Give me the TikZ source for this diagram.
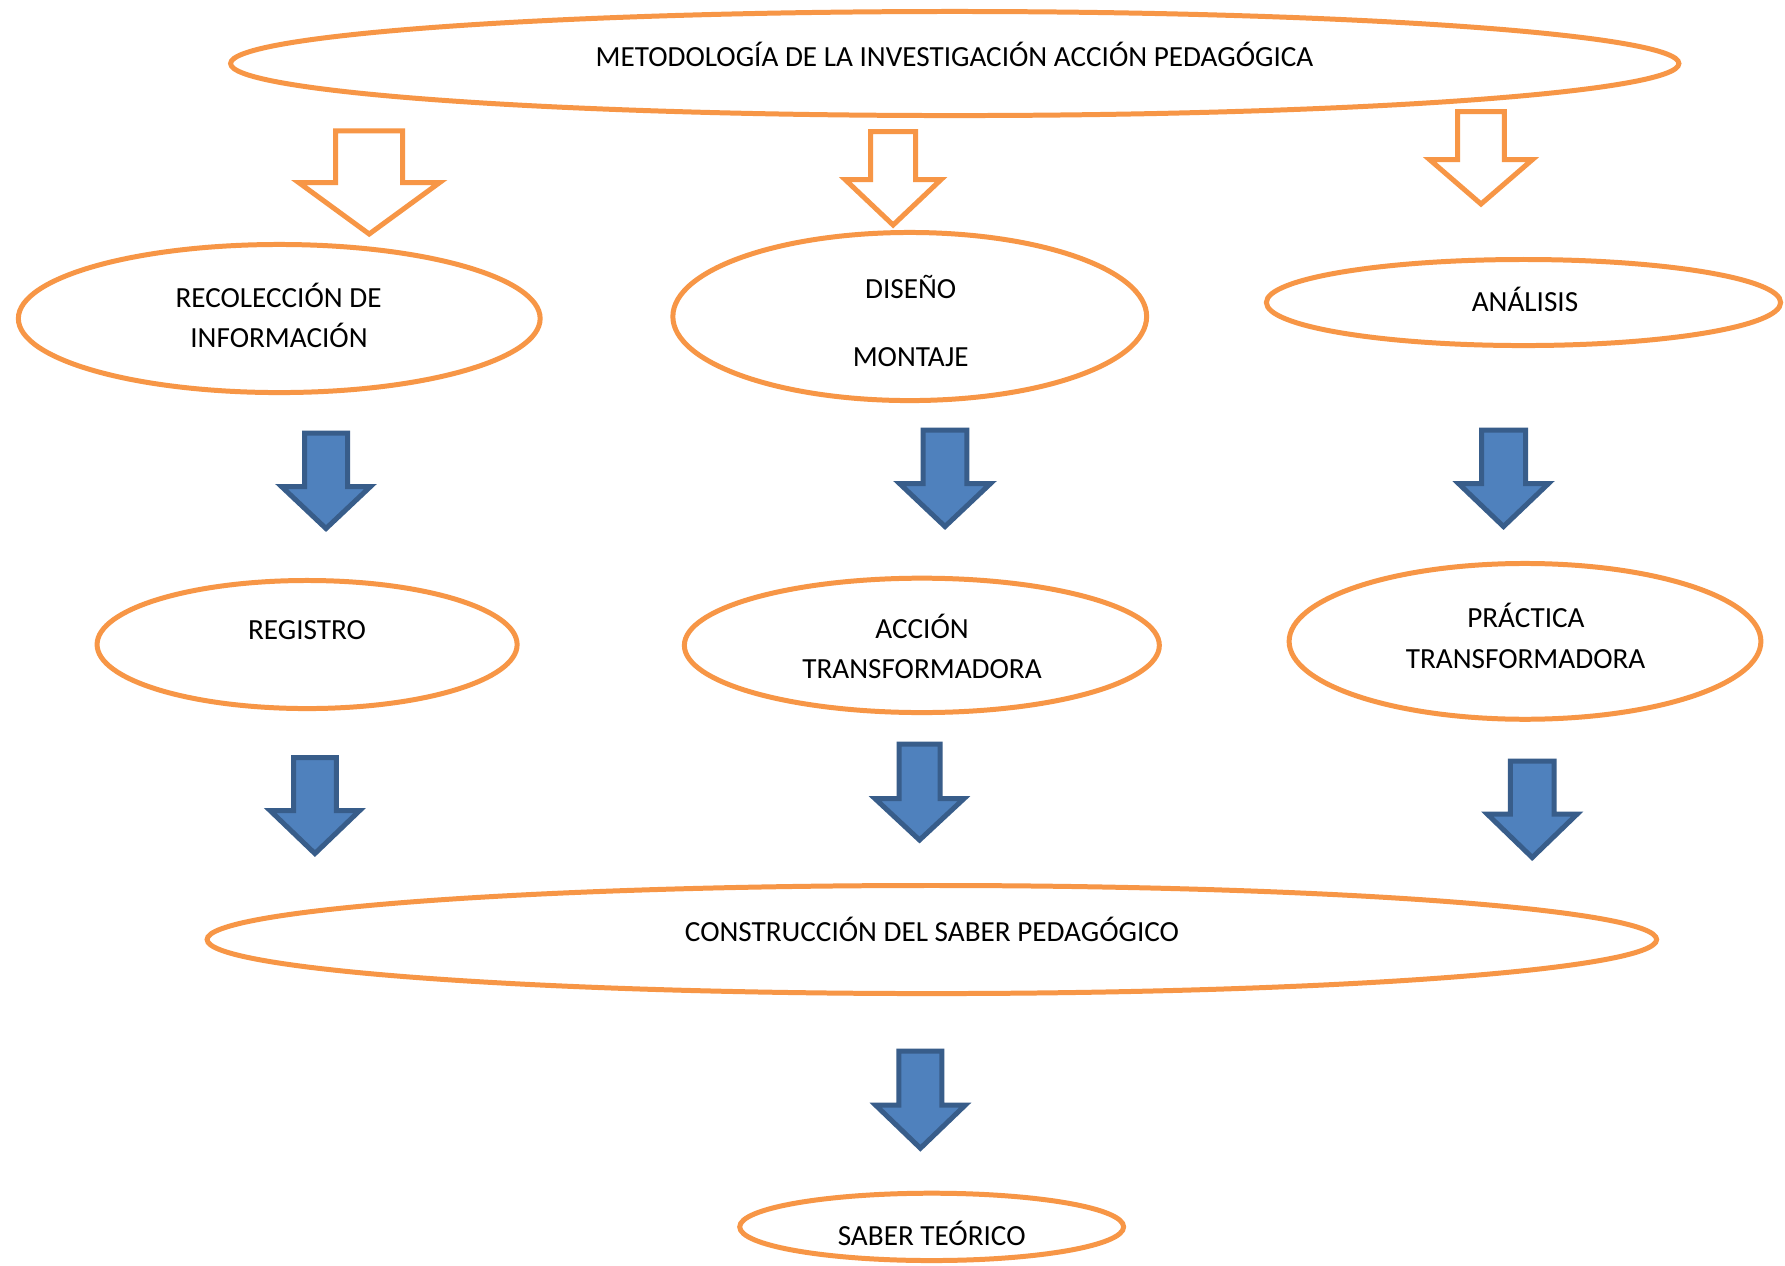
\documentclass[tikz,border=0pt]{standalone}
\usepackage{fontspec}
\setmainfont{Carlito}
\usetikzlibrary{shapes.geometric}
\definecolor{orangeC}{HTML}{F79646}
\definecolor{blueF}{HTML}{4F81BD}
\definecolor{blueD}{HTML}{385D8A}
\tikzset{
  oval/.style={ellipse, draw=orangeC, line width=1.42pt, fill=white, inner sep=0pt},
  lbl/.style={font=\fontsize{8.3}{10}\selectfont, anchor=base, inner sep=0pt, text=black},
  outarrow/.style={draw=orangeC, fill=white, line width=1.42pt, miter limit=10},
  bluearrow/.style={draw=blueD, fill=blueF, line width=1.42pt, miter limit=10},
}
% style, cx, top, headY, tipY, shaft half width, head half width
\newcommand{\blkarrow}[7]{%
  \draw[#1] ({#2-#6},#3) -- ({#2+#6},#3) -- ({#2+#6},#4) -- ({#2+#7},#4) -- (#2,#5)
    -- ({#2-#7},#4) -- ({#2-#6},#4) -- cycle;}
\begin{document}
\begin{tikzpicture}[x=0.01cm, y=-0.01cm]
\fill[white] (0,0) rectangle (1785,1265);
\useasboundingbox (0,0) rectangle (1785,1265);

% ellipses
\node[oval, minimum width=14.475cm, minimum height=1.04cm] (top) at (954.75,63.5) {};
\node[oval, minimum width=5.215cm, minimum height=1.48cm] (rec) at (279.25,318.5) {};
\node[oval, minimum width=4.735cm, minimum height=1.68cm] (dis) at (909.75,316.5) {};
\node[oval, minimum width=5.14cm, minimum height=0.86cm] (ana) at (1523.5,302.5) {};
\node[oval, minimum width=4.198cm, minimum height=1.28cm] (reg) at (307.1,644.5) {};
\node[oval, minimum width=4.747cm, minimum height=1.343cm] (acc) at (921.85,645.35) {};
\node[oval, minimum width=4.715cm, minimum height=1.557cm] (pra) at (1525,641.35) {};
\node[oval, minimum width=14.487cm, minimum height=1.08cm] (con) at (931.85,939.5) {};
\node[oval, minimum width=3.837cm, minimum height=0.673cm] (sab) at (931.65,1226.85) {};

% texts
\node[lbl] (ttop) at (954.5,66) {METODOLOGÍA DE LA INVESTIGACIÓN ACCIÓN PEDAGÓGICA};
\node[lbl] (trec1) at (278.6,307) {RECOLECCIÓN DE};
\node[lbl] (trec2) at (279,347) {INFORMACIÓN};
\node[lbl] (tdis1) at (910.7,298.3) {DISEÑO};
\node[lbl] (tdis2) at (910.7,366.7) {MONTAJE};
\node[lbl] (tana) at (1525,311.7) {ANÁLISIS};
\node[lbl] (treg) at (307,639.3) {REGISTRO};
\node[lbl] (tacc1) at (922,638.3) {ACCIÓN};
\node[lbl] (tacc2) at (922,678.3) {TRANSFORMADORA};
\node[lbl] (tpra1) at (1525.9,627.3) {PRÁCTICA};
\node[lbl] (tpra2) at (1525.6,668.3) {TRANSFORMADORA};
\node[lbl] (tcon) at (932,941.7) {CONSTRUCCIÓN DEL SABER PEDAGÓGICO};
\node[lbl] (tsab) at (931.7,1245.5) {SABER TEÓRICO};

% orange outline arrows
\blkarrow{outarrow}{369.2}{130.8}{182.5}{234}{33.5}{70.5}
\blkarrow{outarrow}{893.1}{131.5}{179.5}{225}{22.4}{48}
\blkarrow{outarrow}{1481}{111.5}{159.5}{204}{23.3}{51.5}

% blue arrows
\blkarrow{bluearrow}{326}{433}{486.5}{528.5}{21.5}{44.5}
\blkarrow{bluearrow}{945}{430.2}{483.5}{526.5}{21.9}{45.5}
\blkarrow{bluearrow}{1503.5}{430.2}{483.5}{526.5}{22}{45}
\blkarrow{bluearrow}{314.9}{757.5}{810.5}{853.5}{21.4}{44.8}
\blkarrow{bluearrow}{919.5}{744.2}{798.5}{840}{20.5}{44.6}
\blkarrow{bluearrow}{1532.2}{761}{814}{857.5}{21.8}{45}
\blkarrow{bluearrow}{920.4}{1051.2}{1105.2}{1148.2}{21.5}{44.7}
\end{tikzpicture}
\end{document}
